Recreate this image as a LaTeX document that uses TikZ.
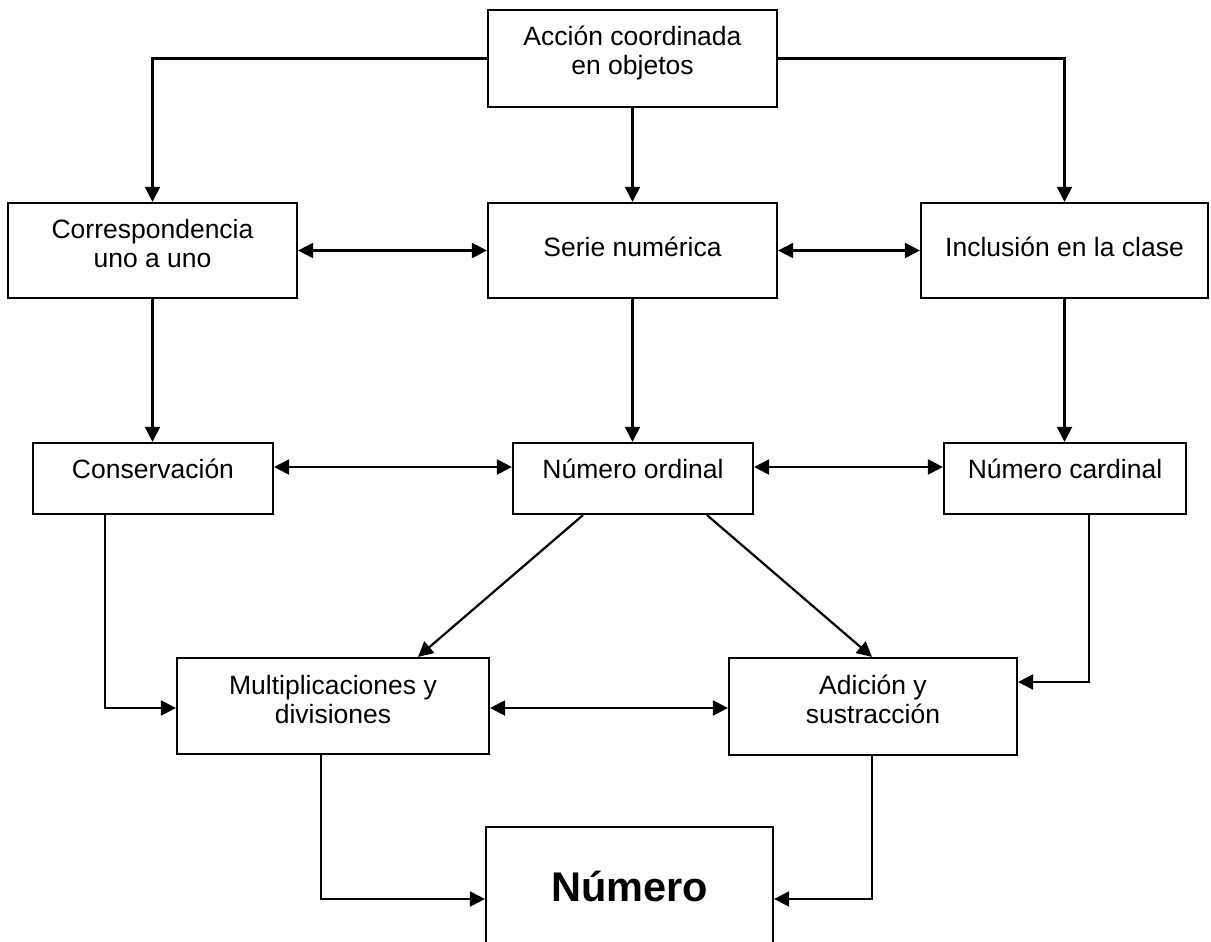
\documentclass[tikz,border=0pt]{standalone}
\usepackage{fontspec}
\setmainfont{Liberation Sans}
\usetikzlibrary{arrows.meta}
\tikzset{
  box/.style={draw, line width=2.2pt, inner sep=0pt, rectangle},
  txt/.style={anchor=base, align=center, inner sep=0pt, font=\fontsize{26.5}{29}\selectfont},
  big/.style={anchor=base, inner sep=0pt, font=\fontsize{41.5}{46}\selectfont\bfseries},
  conn/.style={line width=2.2pt, -{Triangle[length=15pt,width=15pt]}},
  bconn/.style={line width=2.2pt, {Triangle[length=15pt,width=15pt]}-{Triangle[length=15pt,width=15pt]}}
}
\begin{document}
\begin{tikzpicture}[x=1pt,y=-1pt]
\useasboundingbox (0,0) rectangle (1211,942);
\clip (0,0) rectangle (1211,942);
\fill[white] (0,0) rectangle (1211,942);
% boxes
\node[box, minimum width=289pt, minimum height=97pt] (A) at (632.5,58.5) {};
\node[box, minimum width=289pt, minimum height=95pt] (Cor) at (152.5,250.5) {};
\node[box, minimum width=289pt, minimum height=95pt] (Ser) at (632.5,250.5) {};
\node[box, minimum width=287pt, minimum height=95pt] (Inc) at (1064.5,250.5) {};
\node[box, minimum width=240pt, minimum height=71pt] (Con) at (153,478.5) {};
\node[box, minimum width=240pt, minimum height=71pt] (Ord) at (633,478.5) {};
\node[box, minimum width=242pt, minimum height=71pt] (Car) at (1065,478.5) {};
\node[box, minimum width=312pt, minimum height=96pt] (Mul) at (333,706) {};
\node[box, minimum width=288pt, minimum height=97pt] (Adi) at (873,706.5) {};
\node[box, minimum width=287pt, minimum height=133pt] (Num) at (629.5,893.5) {};
% texts
\node[txt] (tA) at (632.5,75) {Acción coordinada\\en objetos};
\node[txt] (tCor) at (152.5,267) {Correspondencia\\uno a uno};
\node[txt] (tSer) at (632.5,256) {Serie numérica};
\node[txt] (tInc) at (1064.5,256) {Inclusión en la clase};
\node[txt] (tCon) at (153,478) {Conservación};
\node[txt] (tOrd) at (633,478) {Número ordinal};
\node[txt] (tCar) at (1065,478) {Número cardinal};
\node[txt] (tMul) at (333,723) {Multiplicaciones y\\divisiones};
\node[txt] (tAdi) at (873,723) {Adición y\\sustracción};
\node[big] (tNum) at (629.5,901) {Número};
% connectors
\draw[conn] (A.west) -| (Cor.north);
\draw[conn] (A.south) -- (Ser.north);
\draw[conn] (A.east) -| (Inc.north);
\draw[bconn] (Cor.east) -- (Ser.west);
\draw[bconn] (Ser.east) -- (Inc.west);
\draw[conn] (Cor.south) -- (Cor.south |- Con.north);
\draw[conn] (Ser.south) -- (Ser.south |- Ord.north);
\draw[conn] (Inc.south) -- (Inc.south |- Car.north);
\draw[bconn] ([yshift=11.5pt]Con.east) -- ([yshift=11.5pt]Ord.west);
\draw[bconn] ([yshift=11.5pt]Ord.east) -- ([yshift=11.5pt]Car.west);
\draw[conn] ([xshift=-48pt]Con.south) |- ([yshift=-2pt]Mul.west);
\draw[conn] ([xshift=-50pt]Ord.south) -- ([xshift=85pt]Mul.north);
\draw[conn] ([xshift=74pt]Ord.south) -- ([xshift=-1pt]Adi.north);
\draw[conn] ([xshift=24pt]Car.south) |- ([yshift=24.5pt]Adi.east);
\draw[bconn] ([yshift=-2pt]Mul.east) -- ([yshift=-1.5pt]Adi.west);
\draw[conn] ([xshift=-12pt]Mul.south) |- ([yshift=-5.5pt]Num.west);
\draw[conn] ([xshift=-1pt]Adi.south) |- ([yshift=-5.5pt]Num.east);
\end{tikzpicture}
\end{document}
